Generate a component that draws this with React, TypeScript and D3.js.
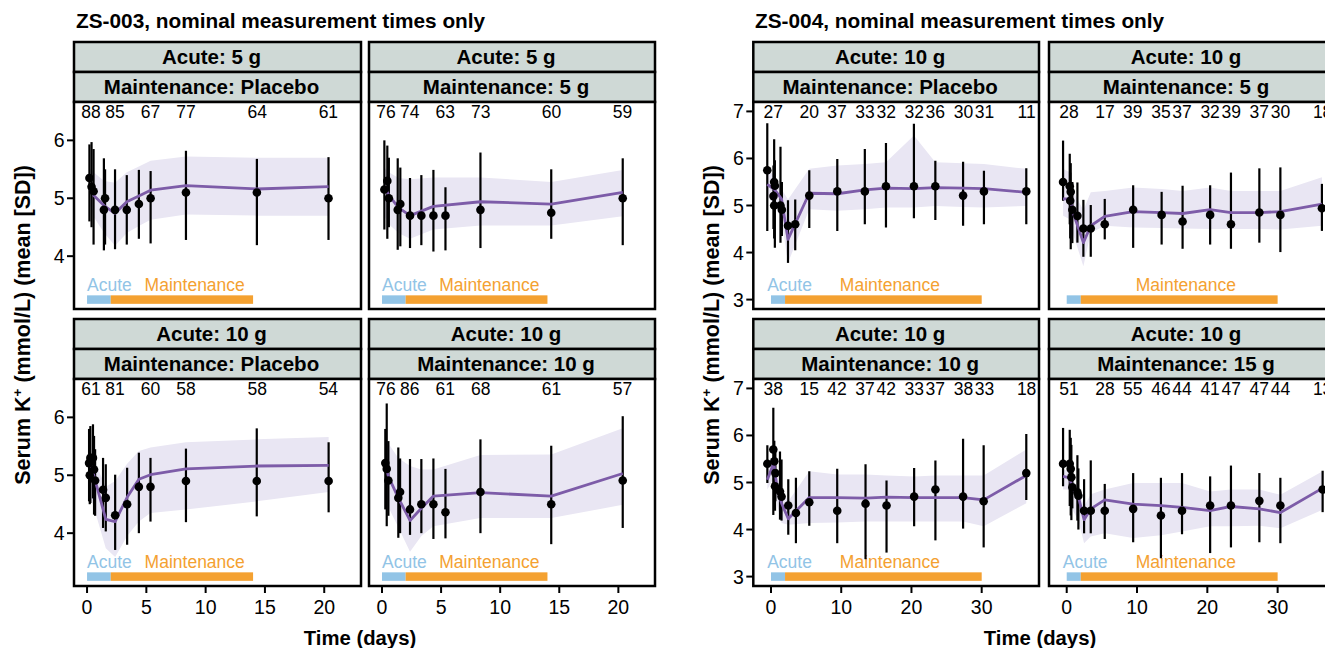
import React from "react";
import * as d3 from "d3";

const FONT = "'Liberation Sans', Arial, Helvetica, sans-serif";

// ---------------- ZS-003 ----------------
const zs003XTicks = [0, 5, 10, 15, 20];
const zs003YTicks = [4, 5, 6];
const zs003NTimes = [0.33, 2.35, 5.35, 8.35, 14.35, 20.35];

// Acute 5 g / Maintenance Placebo
const A_t = [0.2, 0.38, 0.55, 1.42, 1.52, 2.36, 3.35, 4.37, 5.36, 8.34, 14.32, 20.36];
const A_mean = [5.35, 5.2, 5.12, 4.8, 5.0, 4.8, 4.8, 4.9, 5.0, 5.1, 5.1, 5.0];
const A_lo = [4.6, 4.5, 4.2, 4.1, 4.2, 4.12, 4.2, 4.3, 4.22, 4.28, 4.19, 4.28];
const A_hi = [5.93, 5.97, 5.85, 5.69, 5.5, 5.5, 5.4, 5.49, 5.47, 5.82, 5.68, 5.71];
const A_mt = [0.2, 0.55, 1.45, 2.36, 3.35, 4.37, 5.36, 8.34, 14.32, 20.36];
const A_med = [5.2, 5.05, 4.87, 4.74, 4.94, 5.04, 5.14, 5.22, 5.16, 5.2];
const A_pLo = [4.92, 4.68, 4.4, 4.18, 4.4, 4.52, 4.63, 4.72, 4.7, 4.7];
const A_pHi = [5.53, 5.45, 5.3, 5.27, 5.45, 5.55, 5.65, 5.72, 5.7, 5.7];
const A_n = [88, 85, 67, 77, 64, 61];

// Acute 5 g / Maintenance 5 g
const B_t = [0.2, 0.45, 0.58, 1.33, 1.55, 2.37, 3.33, 4.35, 5.37, 8.33, 14.32, 20.37];
const B_mean = [5.15, 5.3, 5.0, 4.8, 4.9, 4.7, 4.7, 4.7, 4.7, 4.8, 4.75, 5.0];
const B_lo = [4.46, 4.3, 4.5, 4.11, 4.17, 4.14, 4.19, 4.08, 4.1, 4.14, 4.3, 4.19];
const B_hi = [6.0, 5.91, 5.7, 5.69, 5.53, 5.35, 5.4, 5.49, 5.19, 5.79, 5.5, 5.69];
const B_mt = [0.2, 0.58, 1.4, 2.37, 4.35, 8.33, 14.32, 20.37];
const B_med = [5.21, 5.05, 4.84, 4.7, 4.86, 4.94, 4.9, 5.1];
const B_pLo = [4.69, 4.55, 4.4, 4.3, 4.46, 4.53, 4.53, 4.69];
const B_pHi = [5.53, 5.45, 5.35, 5.33, 5.36, 5.36, 5.28, 5.49];
const B_n = [76, 74, 63, 73, 60, 59];

// Acute 10 g / Maintenance Placebo
const C_t = [0.17, 0.23, 0.28, 0.5, 0.59, 0.68, 1.35, 1.58, 2.37, 3.38, 4.37, 5.35, 8.34, 14.31, 20.37];
const C_mean = [5.21, 5.0, 5.3, 5.3, 5.1, 4.91, 4.75, 4.61, 4.31, 4.5, 4.8, 4.8, 4.9, 4.9, 4.9];
const C_lo = [4.55, 4.5, 4.52, 4.6, 4.32, 4.3, 4.09, 4.03, 3.71, 3.8, 4.0, 4.2, 4.19, 4.29, 4.36];
const C_hi = [5.8, 5.5, 5.85, 5.88, 5.68, 5.45, 5.3, 5.19, 5.01, 5.13, 5.39, 5.3, 5.46, 5.81, 5.57];
const C_mt = [0.2, 0.5, 1.58, 2.37, 3.38, 4.37, 5.35, 8.34, 14.31, 20.37];
const C_med = [5.25, 5.05, 4.24, 4.2, 4.62, 4.93, 5.01, 5.11, 5.16, 5.17];
const C_pLo = [4.64, 4.5, 3.74, 3.59, 3.95, 4.2, 4.35, 4.41, 4.55, 4.71];
const C_pHi = [5.42, 5.3, 4.8, 4.9, 5.2, 5.42, 5.48, 5.57, 5.62, 5.66];
const C_n = [61, 81, 60, 58, 58, 54];

// Acute 10 g / Maintenance 10 g
const D_t = [0.28, 0.4, 0.54, 1.38, 1.53, 2.37, 3.33, 4.35, 5.37, 8.33, 14.32, 20.37];
const D_mean = [5.21, 5.11, 4.91, 4.61, 4.71, 4.41, 4.5, 4.5, 4.36, 4.71, 4.5, 4.91];
const D_lo = [4.41, 4.12, 4.3, 3.92, 4.0, 3.97, 4.0, 3.9, 3.91, 4.0, 3.81, 4.09];
const D_hi = [5.8, 6.24, 5.59, 5.48, 5.29, 5.28, 5.28, 5.29, 5.11, 5.62, 5.51, 6.02];
const D_mt = [0.28, 0.54, 1.38, 2.37, 3.33, 4.35, 8.33, 14.32, 20.37];
const D_med = [5.22, 4.98, 4.61, 4.22, 4.43, 4.64, 4.7, 4.64, 5.03];
const D_pLo = [4.64, 4.45, 4.1, 3.68, 3.95, 4.12, 4.26, 4.26, 4.49];
const D_pHi = [5.68, 5.55, 5.3, 5.16, 5.1, 5.1, 5.35, 5.36, 5.81];
const D_n = [76, 86, 61, 68, 61, 57];

// ---------------- ZS-004 ----------------
const zs004XTicks = [0, 10, 20, 30];
const zs004YTicks = [3, 4, 5, 6, 7];
const zs004NTimes = [0.33, 5.45, 9.4, 13.4, 16.4, 20.4, 23.4, 27.4, 30.4, 36.4];

// Acute 10 g / Maintenance Placebo
const E_t = [-0.53, 0.35, 0.45, 0.45, 0.55, 1.35, 1.55, 2.42, 3.45, 5.45, 9.44, 13.36, 16.37, 20.35, 23.4, 27.35, 30.32, 36.35];
const E_mean = [5.75, 5.2, 5.5, 5.0, 5.42, 5.0, 4.91, 4.57, 4.6, 5.21, 5.3, 5.3, 5.41, 5.41, 5.41, 5.21, 5.3, 5.3];
const E_lo = [4.46, 4.5, 4.62, 4.3, 4.1, 4.21, 4.35, 3.78, 4.05, 4.52, 4.46, 4.6, 4.53, 4.73, 4.69, 4.57, 4.6, 4.6];
const E_hi = [6.75, 5.85, 6.41, 5.6, 5.96, 6.25, 5.5, 5.11, 5.13, 5.75, 5.99, 6.2, 6.33, 6.74, 5.95, 5.93, 5.74, 5.79];
const E_mt = [-0.53, 0.5, 1.5, 2.42, 5.45, 9.44, 13.36, 16.37, 20.35, 23.4, 27.35, 30.32, 36.35];
const E_med = [5.45, 5.34, 5.14, 4.28, 5.26, 5.25, 5.33, 5.37, 5.36, 5.38, 5.37, 5.36, 5.28];
const E_pLo = [5.2, 5.0, 4.7, 3.78, 4.92, 4.89, 4.92, 4.96, 4.96, 4.99, 4.97, 4.96, 4.99];
const E_pHi = [5.75, 5.65, 5.35, 5.13, 5.78, 5.85, 5.88, 5.92, 6.49, 5.92, 5.9, 5.88, 5.78];
const E_n = [27, 20, 37, 33, 32, 32, 36, 30, 31, 11];

// Acute 10 g / Maintenance 5 g
const F_t = [-0.52, 0.43, 0.5, 0.57, 0.8, 1.52, 2.37, 3.42, 5.41, 9.45, 13.5, 16.48, 20.4, 23.36, 27.4, 30.39, 36.3];
const F_mean = [5.5, 5.41, 5.1, 5.29, 4.91, 4.78, 4.51, 4.51, 4.6, 4.91, 4.8, 4.66, 4.8, 4.6, 4.85, 4.8, 4.94];
const F_lo = [5.1, 4.6, 4.3, 4.07, 4.2, 4.21, 3.91, 3.91, 4.28, 4.1, 4.17, 4.08, 4.17, 4.08, 4.21, 4.01, 4.46];
const F_hi = [6.38, 6.1, 5.7, 5.9, 5.5, 5.49, 5.12, 5.01, 5.14, 5.43, 5.29, 5.42, 5.43, 5.7, 5.79, 5.81, 5.46];
const F_mt = [-0.52, 0.5, 1.0, 2.37, 3.42, 5.41, 9.45, 13.5, 16.48, 20.4, 23.36, 27.4, 30.39, 36.3];
const F_med = [5.14, 5.14, 4.81, 4.21, 4.57, 4.77, 4.87, 4.85, 4.83, 4.91, 4.85, 4.85, 4.87, 5.03];
const F_pLo = [4.78, 4.7, 4.35, 3.71, 4.42, 4.57, 4.53, 4.52, 4.51, 4.5, 4.5, 4.5, 4.49, 4.57];
const F_pHi = [5.78, 5.7, 5.28, 4.9, 5.28, 5.31, 5.38, 5.35, 5.31, 5.38, 5.31, 5.31, 5.31, 5.6];
const F_n = [28, 17, 39, 35, 37, 32, 39, 37, 30, 18];

// Acute 10 g / Maintenance 10 g
const G_t = [-0.52, 0.33, 0.47, 0.57, 0.62, 1.28, 1.5, 2.46, 3.55, 5.45, 9.43, 13.46, 16.45, 20.38, 23.41, 27.35, 30.28, 36.35];
const G_mean = [5.4, 5.7, 5.45, 4.92, 5.2, 4.81, 4.7, 4.51, 4.35, 4.58, 4.4, 4.55, 4.51, 4.7, 4.85, 4.7, 4.6, 5.2];
const G_lo = [4.99, 4.31, 4.49, 4.4, 4.6, 4.21, 4.19, 3.89, 3.71, 4.08, 3.71, 3.37, 3.51, 4.07, 3.77, 4.02, 3.62, 4.63];
const G_hi = [5.79, 6.59, 5.89, 5.45, 5.75, 5.66, 5.49, 5.07, 5.1, 5.24, 5.29, 5.39, 5.04, 5.31, 5.47, 5.93, 5.79, 6.03];
const G_mt = [-0.52, 0.4, 0.9, 1.5, 2.46, 5.45, 9.43, 13.46, 16.45, 20.38, 23.41, 27.35, 30.28, 36.35];
const G_med = [5.06, 5.42, 4.85, 4.56, 4.23, 4.68, 4.68, 4.67, 4.69, 4.68, 4.68, 4.68, 4.63, 5.15];
const G_pLo = [4.85, 5.1, 4.5, 4.14, 4.1, 4.14, 4.15, 4.17, 4.17, 4.17, 4.17, 4.17, 4.07, 4.56];
const G_pHi = [5.34, 5.5, 5.1, 4.85, 4.6, 5.24, 5.17, 5.17, 5.15, 5.13, 5.15, 5.15, 5.15, 5.7];
const G_n = [38, 15, 42, 37, 42, 33, 37, 38, 33, 18];

// Acute 10 g / Maintenance 15 g
const H_t = [-0.52, 0.43, 0.57, 0.66, 0.8, 1.52, 1.66, 2.47, 3.42, 5.41, 9.45, 13.4, 16.4, 20.4, 23.36, 27.4, 30.39, 36.4];
const H_mean = [5.4, 5.4, 5.29, 5.11, 4.9, 4.79, 4.72, 4.4, 4.4, 4.4, 4.44, 4.3, 4.4, 4.51, 4.51, 4.61, 4.51, 4.85];
const H_lo = [4.92, 4.5, 4.3, 4.2, 4.45, 4.19, 4.0, 3.92, 3.92, 3.8, 3.73, 3.39, 3.9, 3.5, 3.62, 3.73, 3.71, 4.37];
const H_hi = [6.16, 6.12, 5.95, 5.8, 5.3, 5.58, 5.3, 5.07, 5.47, 4.97, 5.2, 5.1, 5.2, 5.13, 5.36, 5.2, 5.1, 5.25];
const H_mt = [-0.52, 0.43, 0.8, 1.66, 2.47, 3.42, 5.41, 9.45, 13.4, 16.4, 20.4, 23.36, 27.4, 30.39, 36.4];
const H_med = [5.13, 5.1, 4.88, 4.7, 4.21, 4.44, 4.63, 4.54, 4.51, 4.47, 4.4, 4.49, 4.44, 4.36, 4.88];
const H_pLo = [4.85, 4.85, 4.42, 4.2, 3.71, 3.85, 3.92, 3.82, 3.88, 3.96, 4.07, 4.07, 4.08, 4.03, 4.42];
const H_pHi = [5.27, 5.25, 5.06, 4.9, 4.49, 4.75, 4.85, 4.99, 4.99, 4.99, 4.81, 4.85, 4.85, 4.74, 5.24];
const H_n = [51, 28, 55, 46, 44, 41, 47, 47, 44, 13];

// ---------------- styles ----------------
const STRIP_FILL = "#cfd9d6";
const RIBBON = "#e9e6f3";
const LINE = "#7d5ca8";
const ACUTE_COL = "#92c4e6";
const MAINT_COL = "#f4a131";

const ROW_TOPS = [42, 319];
const STRIP_H = 30;
const PANEL_H = 207;
const BORDER = 2.5;
const STRIP_TEXT_SHIFT = -6;

type P = {
  s1: string; s2: string;
  t: number[]; mean: number[]; lo: number[]; hi: number[];
  mt: number[]; med: number[]; pLo: number[]; pHi: number[];
  n: number[]; showAcute: boolean;
};

const mk = (s1, s2, t, mean, lo, hi, mt, med, pLo, pHi, n, showAcute = true): P =>
  ({ s1, s2, t, mean, lo, hi, mt, med, pLo, pHi, n, showAcute });

const figs = [
  {
    id: "zs003",
    title: "ZS-003, nominal measurement times only",
    titleX: 76,
    cols: [[74, 361], [369, 655]],
    xDomain: [-1.1, 23.1],
    yDomain: [3.0875, 6.6625],
    xTicks: zs003XTicks,
    yTicks: zs003YTicks,
    nTimes: zs003NTimes,
    nY: 6.5,
    barY: 3.25,
    phases: [{ name: "Acute", start: 0, end: 2 }, { name: "Maintenance", start: 2, end: 14 }],
    acuteLabelX: 0,
    maintLabelX: 9.08,
    xTitleX: 360,
    yTitleX: 30,
    panels: [
      [mk("Acute: 5 g", "Maintenance: Placebo", A_t, A_mean, A_lo, A_hi, A_mt, A_med, A_pLo, A_pHi, A_n),
       mk("Acute: 5 g", "Maintenance: 5 g", B_t, B_mean, B_lo, B_hi, B_mt, B_med, B_pLo, B_pHi, B_n)],
      [mk("Acute: 10 g", "Maintenance: Placebo", C_t, C_mean, C_lo, C_hi, C_mt, C_med, C_pLo, C_pHi, C_n),
       mk("Acute: 10 g", "Maintenance: 10 g", D_t, D_mean, D_lo, D_hi, D_mt, D_med, D_pLo, D_pHi, D_n)],
    ],
  },
  {
    id: "zs004",
    title: "ZS-004, nominal measurement times only",
    titleX: 755,
    cols: [[753.3, 1039], [1049, 1335]],
    xDomain: [-2.52, 38.16],
    yDomain: [2.8, 7.2],
    xTicks: zs004XTicks,
    yTicks: zs004YTicks,
    nTimes: zs004NTimes,
    nY: 7.0,
    barY: 3.0,
    phases: [{ name: "Acute", start: 0, end: 2 }, { name: "Maintenance", start: 2, end: 30 }],
    acuteLabelX: -0.55,
    maintLabelX: 16.94,
    xTitleX: 1040,
    yTitleX: 719,
    panels: [
      [mk("Acute: 10 g", "Maintenance: Placebo", E_t, E_mean, E_lo, E_hi, E_mt, E_med, E_pLo, E_pHi, E_n),
       mk("Acute: 10 g", "Maintenance: 5 g", F_t, F_mean, F_lo, F_hi, F_mt, F_med, F_pLo, F_pHi, F_n, false)],
      [mk("Acute: 10 g", "Maintenance: 10 g", G_t, G_mean, G_lo, G_hi, G_mt, G_med, G_pLo, G_pHi, G_n),
       mk("Acute: 10 g", "Maintenance: 15 g", H_t, H_mean, H_lo, H_hi, H_mt, H_med, H_pLo, H_pHi, H_n)],
    ],
  },
];

function Panel({ fig, row, col, p }) {
  const [x0, x1] = fig.cols[col];
  const top = ROW_TOPS[row];
  const pTop = top + 2 * STRIP_H;
  const pBot = pTop + PANEL_H;
  const x = d3.scaleLinear().domain(fig.xDomain).range([x0, x1]);
  const y = d3.scaleLinear().domain(fig.yDomain).range([pBot, pTop]);
  const area = d3.area<number>()
    .x((_, i) => x(p.mt[i]))
    .y0((_, i) => y(p.pLo[i]))
    .y1((_, i) => y(p.pHi[i]));
  const line = d3.line<number>().x((_, i) => x(p.mt[i])).y((v) => y(v));
  const clipId = `clip-${fig.id}-${row}-${col}`;
  const w = x1 - x0;
  const by = y(fig.barY);
  const cx = (x0 + x1) / 2 + STRIP_TEXT_SHIFT;
  return (
    <g>
      <defs>
        <clipPath id={clipId}>
          <rect x={x0} y={pTop} width={w} height={PANEL_H} />
        </clipPath>
      </defs>
      <rect x={x0} y={top} width={w} height={STRIP_H} fill={STRIP_FILL} stroke="#000" strokeWidth={BORDER} />
      <text x={cx} y={top + STRIP_H / 2} dy="0.36em" textAnchor="middle" fontSize={20.5} fontWeight="bold">{p.s1}</text>
      <rect x={x0} y={top + STRIP_H} width={w} height={STRIP_H} fill={STRIP_FILL} stroke="#000" strokeWidth={BORDER} />
      <text x={cx} y={top + STRIP_H * 1.5} dy="0.36em" textAnchor="middle" fontSize={20.5} fontWeight="bold">{p.s2}</text>
      <rect x={x0} y={pTop} width={w} height={PANEL_H} fill="#fff" />
      <g clipPath={`url(#${clipId})`}>
        <path d={area(p.med) || ""} fill={RIBBON} />
        {fig.phases.map((ph, i) => (
          <rect key={i} x={x(ph.start)} y={by - 4.25} width={x(ph.end) - x(ph.start)} height={8.5}
            fill={i === 0 ? ACUTE_COL : MAINT_COL} />
        ))}
        {p.showAcute && (
          <text x={x(fig.acuteLabelX)} y={by - 8.5} fontSize={17.5} fill={ACUTE_COL}>Acute</text>
        )}
        <text x={x(fig.maintLabelX)} y={by - 8.5} fontSize={17.5} fill={MAINT_COL} textAnchor="middle">Maintenance</text>
        {p.t.map((t, i) => (
          <line key={"e" + i} x1={x(t)} x2={x(t)} y1={y(p.lo[i])} y2={y(p.hi[i])} stroke="#000" strokeWidth={2.2} />
        ))}
        <path d={line(p.med) || ""} fill="none" stroke={LINE} strokeWidth={2.8} strokeLinejoin="round" />
        {p.t.map((t, i) => (
          <circle key={"p" + i} cx={x(t)} cy={y(p.mean[i])} r={4.3} fill="#000" />
        ))}
      </g>
      {fig.nTimes.map((t, i) => (
        <text key={"n" + i} x={x(t)} y={y(fig.nY)} dy="0.36em" textAnchor="middle" fontSize={17.5}>{p.n[i]}</text>
      ))}
      <rect x={x0} y={pTop} width={w} height={PANEL_H} fill="none" stroke="#000" strokeWidth={BORDER} />
      {col === 0 && fig.yTicks.map((v) => (
        <g key={"y" + v}>
          <line x1={x0 - 7} x2={x0} y1={y(v)} y2={y(v)} stroke="#000" strokeWidth={2} />
          <text x={x0 - 9.5} y={y(v)} dy="0.36em" textAnchor="end" fontSize={19.5}>{v}</text>
        </g>
      ))}
      {row === 1 && fig.xTicks.map((v) => (
        <g key={"x" + v}>
          <line x1={x(v)} x2={x(v)} y1={pBot} y2={pBot + 7} stroke="#000" strokeWidth={2} />
          <text x={x(v)} y={pBot + 27.5} textAnchor="middle" fontSize={19.5}>{v}</text>
        </g>
      ))}
    </g>
  );
}

function Figure({ fig }) {
  return (
    <g>
      <text x={fig.titleX} y={27.5} fontSize={20.8} fontWeight="bold">{fig.title}</text>
      {fig.panels.map((r, ri) => r.map((p, ci) => (
        <Panel key={`${ri}-${ci}`} fig={fig} row={ri} col={ci} p={p} />
      )))}
      <text x={fig.xTitleX} y={645} textAnchor="middle" fontSize={20.3} fontWeight="bold">Time (days)</text>
      <text transform={`translate(${fig.yTitleX},325) rotate(-90)`} textAnchor="middle" fontSize={21.5} fontWeight="bold">
        <tspan>Serum K</tspan>
        <tspan dy={-8} fontSize={13.5}>+</tspan>
        <tspan dy={8}> (mmol/L) (mean [SD])</tspan>
      </text>
    </g>
  );
}

export default function App() {
  return (
    <svg width={1325} height={648} fontFamily={FONT}
      style={{ position: "absolute", left: 0, top: 0, background: "#fff", display: "block" }}>
      {figs.map((f) => <Figure key={f.id} fig={f} />)}
    </svg>
  );
}
